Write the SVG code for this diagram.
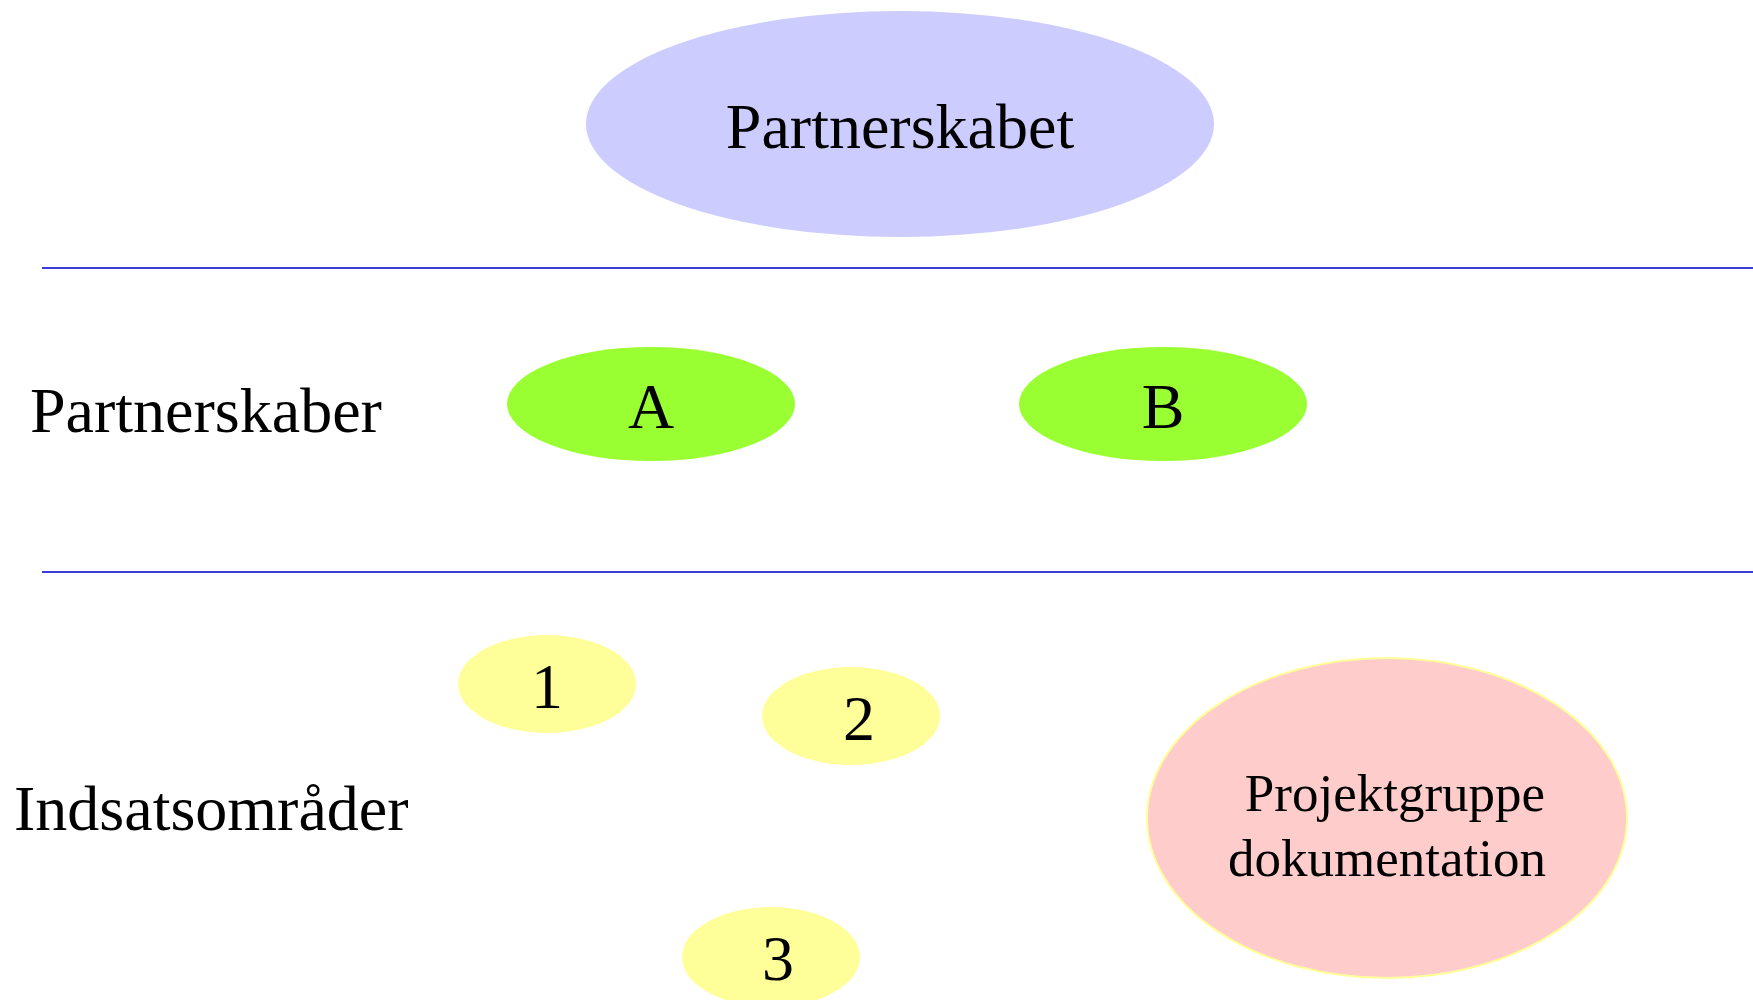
<svg xmlns="http://www.w3.org/2000/svg" width="1753" height="1000" viewBox="0 0 1753 1000">
<style>
text{font-family:"Liberation Serif","Times New Roman",serif;fill:#000;text-anchor:middle}
.big{font-size:64px}
.lbl{text-anchor:start}
.sep{stroke:#3c3cd6;stroke-width:1.8}
</style>
<rect width="1753" height="1000" fill="#fff"/>
<g id="separators">
<line class="sep" x1="42" y1="268" x2="1753" y2="268"/>
<line class="sep" x1="42" y1="572" x2="1753" y2="572"/>
</g>
<g id="connectors"/>
<g id="partnerskabet">
<ellipse cx="900" cy="124" rx="314" ry="113" fill="#ccccff"/>
<text class="big" x="900" y="148">Partnerskabet</text>
</g>
<g id="label-partnerskaber">
<text class="big lbl" x="30" y="432">Partnerskaber</text>
</g>
<g id="label-indsatsomraader">
<text class="big lbl" x="14" y="830">Indsatsområder</text>
</g>
<g id="node-a">
<ellipse cx="651" cy="404" rx="144" ry="57" fill="#99ff33"/>
<text class="big" x="651" y="428">A</text>
</g>
<g id="node-b">
<ellipse cx="1163" cy="404" rx="144" ry="57" fill="#99ff33"/>
<text class="big" x="1163" y="428">B</text>
</g>
<g id="node-1">
<ellipse cx="547" cy="684" rx="89" ry="49" fill="#ffff99"/>
<text class="big" x="547" y="708">1</text>
</g>
<g id="node-2">
<ellipse cx="851" cy="716" rx="89" ry="49" fill="#ffff99"/>
<text class="big" x="859" y="740">2</text>
</g>
<g id="node-3">
<ellipse cx="771" cy="957" rx="89" ry="50" fill="#ffff99"/>
<text class="big" x="778" y="980">3</text>
</g>
<g id="node-projektgruppe">
<ellipse cx="1387" cy="818" rx="240" ry="160" fill="#ffcccc" stroke="#ffff99" stroke-width="2"/>
<text x="1395" y="811" font-size="53">Projektgruppe</text>
<text x="1387" y="876" font-size="53">dokumentation</text>
</g>
</svg>
